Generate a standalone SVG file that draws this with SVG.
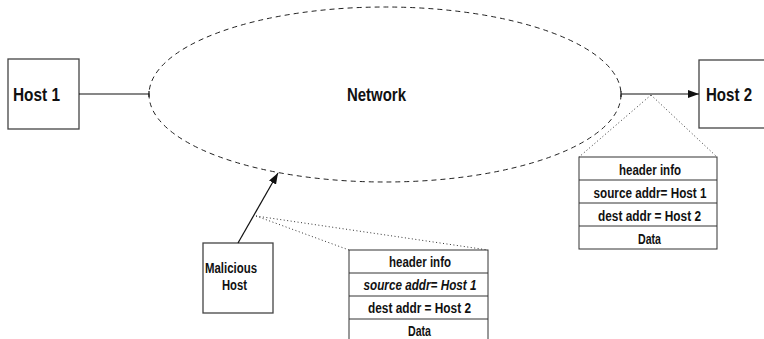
<svg xmlns="http://www.w3.org/2000/svg" width="764" height="339" viewBox="0 0 764 339">
<defs>
<style>
.box{fill:#fff;stroke:#444;stroke-width:1.3}
.t{font-family:"Liberation Sans",Arial,sans-serif;font-weight:bold;fill:#111}
.big{font-size:18px}
.sm{font-size:14px;text-anchor:middle}
.line{stroke:#111;stroke-width:1.2;fill:none}
.dot{stroke:#333;stroke-width:1;stroke-dasharray:1 2.5;fill:none}
.cell{fill:#fff;stroke:#333;stroke-width:1}
</style>
<marker id="ah" viewBox="0 0 11 8" refX="11" refY="4" markerWidth="11" markerHeight="8" markerUnits="userSpaceOnUse" orient="auto">
<path d="M0,0 L11,4 L0,8 z" fill="#111"/>
</marker>
</defs>
<rect width="764" height="339" fill="#fff"/>
<g id="network">
<ellipse cx="385" cy="94.5" rx="236" ry="87.5" fill="none" stroke="#222" stroke-width="1" stroke-dasharray="5 4"/>
<text class="t big" x="347" y="101" textLength="59" lengthAdjust="spacingAndGlyphs">Network</text>
</g>
<g id="host1">
<rect class="box" x="8" y="59" width="71" height="70"/>
<text class="t big" x="13" y="101" textLength="47" lengthAdjust="spacingAndGlyphs">Host 1</text>
</g>
<g id="host2">
<rect class="box" x="699" y="60" width="80" height="68"/>
<text class="t big" x="706" y="101" textLength="46" lengthAdjust="spacingAndGlyphs">Host 2</text>
</g>
<g id="malicious">
<rect class="box" x="203" y="243" width="70" height="70"/>
<text class="t" font-size="14.5" x="205" y="273" textLength="52" lengthAdjust="spacingAndGlyphs">Malicious</text>
<text class="t" font-size="14.5" x="222" y="290" textLength="25" lengthAdjust="spacingAndGlyphs">Host</text>
</g>
<g id="packet1">
<rect class="cell" x="579" y="157" width="138" height="92"/>
<line class="cell" x1="579" y1="180" x2="717" y2="180"/>
<line class="cell" x1="579" y1="203" x2="717" y2="203"/>
<line class="cell" x1="579" y1="226" x2="717" y2="226"/>
<text class="t sm" x="650" y="175" textLength="62" lengthAdjust="spacingAndGlyphs">header info</text>
<text class="t sm" x="650" y="198" textLength="113" lengthAdjust="spacingAndGlyphs">source addr= Host 1</text>
<text class="t sm" x="649.5" y="221" textLength="103" lengthAdjust="spacingAndGlyphs">dest addr = Host 2</text>
<text class="t sm" x="649.5" y="244" textLength="23" lengthAdjust="spacingAndGlyphs">Data</text>
</g>
<g id="packet2">
<rect class="cell" x="349" y="250" width="139" height="95"/>
<line class="cell" x1="349" y1="273" x2="488" y2="273"/>
<line class="cell" x1="349" y1="296" x2="488" y2="296"/>
<line class="cell" x1="349" y1="319" x2="488" y2="319"/>
<text class="t sm" x="420" y="267" textLength="62" lengthAdjust="spacingAndGlyphs">header info</text>
<text class="t sm" x="420" y="290" font-style="italic" textLength="113" lengthAdjust="spacingAndGlyphs">source addr= Host 1</text>
<text class="t sm" x="419.5" y="313" textLength="103" lengthAdjust="spacingAndGlyphs">dest addr = Host 2</text>
<text class="t sm" x="419.5" y="336" textLength="23" lengthAdjust="spacingAndGlyphs">Data</text>
</g>
<g id="connectors">
<line class="line" x1="79" y1="94" x2="149" y2="94"/>
<line class="line" x1="149" y1="91" x2="149" y2="97"/>
<line class="line" x1="621" y1="94" x2="699" y2="94" marker-end="url(#ah)"/>
<line class="line" x1="621" y1="91" x2="621" y2="97"/>
<line class="line" x1="238" y1="243" x2="278" y2="173" marker-end="url(#ah)"/>
<line class="dot" x1="651" y1="95" x2="579" y2="157"/>
<line class="dot" x1="651" y1="95" x2="717" y2="157"/>
<line class="dot" x1="256" y1="216" x2="349" y2="250"/>
<line class="dot" x1="256" y1="216" x2="488" y2="250"/>
</g>
</svg>
